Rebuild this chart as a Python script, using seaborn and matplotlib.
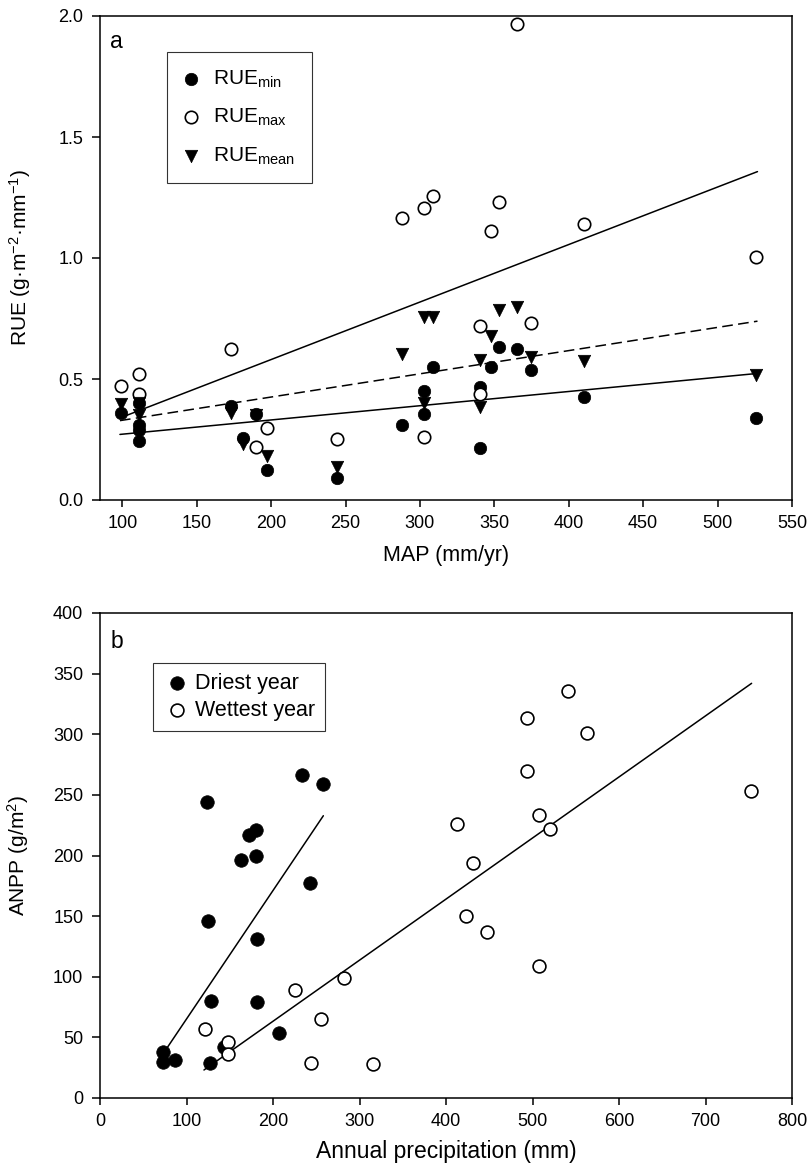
import matplotlib
matplotlib.use("Agg")
import matplotlib.pyplot as plt
import seaborn as sns
import pandas as pd

# ---------------- Panel a data ----------------
map_min = [99, 111, 111, 111, 111, 173, 181, 189.5, 197.5, 244, 288, 303, 303, 308.7,
           340.5, 340.5, 348, 353, 365, 374.5, 410, 526]
rue_min = [0.36, 0.40, 0.31, 0.29, 0.245, 0.39, 0.255, 0.354, 0.124, 0.09, 0.31, 0.452,
           0.354, 0.551, 0.468, 0.214, 0.548, 0.633, 0.623, 0.537, 0.427, 0.338]

map_max = [99, 111, 111, 173, 189.5, 197.5, 244, 288, 303, 303, 308.7, 340.5, 340.5,
           348, 353, 365, 374.5, 410, 526]
rue_max = [0.471, 0.519, 0.438, 0.623, 0.22, 0.296, 0.252, 1.165, 1.205, 0.262, 1.258,
           0.719, 0.438, 1.112, 1.231, 1.967, 0.730, 1.140, 1.006]

map_mean = [99, 111, 111, 173, 181, 189.5, 197.5, 244, 288, 303, 303, 308.7, 340.5,
            340.5, 348, 353, 365, 374.5, 410, 526]
rue_mean = [0.397, 0.40, 0.35, 0.36, 0.232, 0.35, 0.182, 0.138, 0.603, 0.757, 0.40,
            0.757, 0.579, 0.383, 0.678, 0.785, 0.796, 0.590, 0.574, 0.517]

# fitted regression lines (end points)
fit_a_x = [98.4, 526.8]
fit_max_y = [0.339, 1.357]
fit_mean_y = [0.328, 0.739]
fit_min_y = [0.271, 0.523]

# ---------------- Panel b data ----------------
dry_x = [124, 234, 258, 180, 172, 163, 180, 243, 125, 182, 128, 182, 207, 143, 72.5,
         72.5, 87, 127]
dry_y = [244, 266, 259, 221, 217, 196, 200, 177, 146, 131, 80, 79, 54, 42, 38, 30, 31, 29]

wet_x = [541, 494, 563, 494, 507, 753, 413, 520, 431, 423, 447, 507, 121, 148, 148,
         226, 255, 282, 244, 316]
wet_y = [336, 313, 301, 270, 233, 253, 226, 222, 194, 150, 137, 109, 57, 46, 36, 89,
         65, 99, 29, 28]

fit_dry_x = [72.5, 258.2]
fit_dry_y = [36, 232.8]
fit_wet_x = [120.2, 753.3]
fit_wet_y = [23.1, 342]

# ---------------- Style ----------------
sns.set_style("ticks")
plt.rcParams['font.family'] = ['Liberation Sans', 'DejaVu Sans']
plt.rcParams['mathtext.fontset'] = 'custom'
plt.rcParams['mathtext.rm'] = 'Liberation Sans'
plt.rcParams['mathtext.it'] = 'Liberation Sans'
plt.rcParams['mathtext.bf'] = 'Liberation Sans:bold'
plt.rcParams['axes.linewidth'] = 1.1
plt.rcParams['axes.edgecolor'] = 'black'
plt.rcParams['xtick.color'] = 'black'
plt.rcParams['ytick.color'] = 'black'
plt.rcParams['text.color'] = 'black'
plt.rcParams['axes.labelcolor'] = 'black'

W, H = 809, 1167
fig = plt.figure(figsize=(W / 100, H / 100), dpi=100)
ax1 = fig.add_axes([100 / W, 1 - 500 / H, 692 / W, 484 / H])
ax2 = fig.add_axes([100 / W, 1 - 1098 / H, 692 / W, 485 / H])

ms = 80
lw_edge = 1.2

# ---- panel a ----
sns.lineplot(x=fit_a_x, y=fit_max_y, ax=ax1, color='black', lw=1.1)
sns.lineplot(x=fit_a_x, y=fit_min_y, ax=ax1, color='black', lw=1.1)
sns.lineplot(x=fit_a_x, y=fit_mean_y, ax=ax1, color='black', lw=1.1, dashes=False)
ax1.lines[-1].set_dashes((7, 3.5))

sns.scatterplot(x=map_min, y=rue_min, ax=ax1, marker='o', s=ms, color='black',
                edgecolor='black', linewidth=0.5, label=r'RUE$_{\rm min}$', zorder=3)
sns.scatterplot(x=map_max, y=rue_max, ax=ax1, marker='o', s=ms, facecolor='white',
                edgecolor='black', linewidth=lw_edge, label=r'RUE$_{\rm max}$', zorder=3)
sns.scatterplot(x=map_mean, y=rue_mean, ax=ax1, marker='v', s=ms, color='black',
                edgecolor='black', linewidth=0.5, label=r'RUE$_{\rm mean}$', zorder=3)

ax1.set_xlim(85, 550)
ax1.set_ylim(0, 2.0)
ax1.set_xticks([100, 150, 200, 250, 300, 350, 400, 450, 500, 550])
ax1.set_yticks([0.0, 0.5, 1.0, 1.5, 2.0])
ax1.set_yticklabels(['0.0', '0.5', '1.0', '1.5', '2.0'])
ax1.set_xlabel('MAP (mm/yr)', fontsize=15.5, labelpad=9)
ax1.set_ylabel('RUE (g·m$^{-2}$·mm$^{-1}$)', fontsize=15, labelpad=18)
ax1.text(0.015, 0.971, 'a', transform=ax1.transAxes, fontsize=16.5, va='top', ha='left')
leg1 = ax1.legend(loc='upper left', bbox_to_anchor=(0.097, 0.926), fontsize=15,
                  frameon=True, fancybox=False, edgecolor='black', borderpad=0.8,
                  borderaxespad=0, labelspacing=0.82, handletextpad=0.72,
                  handlelength=0.7)
leg1.get_frame().set_linewidth(0.8)

# ---- panel b ----
sns.lineplot(x=fit_dry_x, y=fit_dry_y, ax=ax2, color='black', lw=1.1)
sns.lineplot(x=fit_wet_x, y=fit_wet_y, ax=ax2, color='black', lw=1.1)
sns.scatterplot(x=dry_x, y=dry_y, ax=ax2, marker='o', s=95, color='black',
                edgecolor='black', linewidth=0.5, label='Driest year', zorder=3)
sns.scatterplot(x=wet_x, y=wet_y, ax=ax2, marker='o', s=85, facecolor='white',
                edgecolor='black', linewidth=lw_edge, label='Wettest year', zorder=3)

ax2.set_xlim(0, 800)
ax2.set_ylim(0, 400)
ax2.set_xticks(range(0, 801, 100))
ax2.set_yticks(range(0, 401, 50))
ax2.set_xlabel('Annual precipitation (mm)', fontsize=16.5, labelpad=7)
ax2.set_ylabel('ANPP (g/m$^2$)', fontsize=15, labelpad=16)
ax2.text(0.015, 0.965, 'b', transform=ax2.transAxes, fontsize=16.5, va='top', ha='left')
leg2 = ax2.legend(loc='upper left', bbox_to_anchor=(0.0766, 0.897), fontsize=15.5,
                  frameon=True, fancybox=False, edgecolor='black', borderpad=0.45,
                  borderaxespad=0, labelspacing=0.3, handletextpad=0.2,
                  handlelength=1.3)
leg2.get_frame().set_linewidth(0.8)

for ax in (ax1, ax2):
    for sp in ax.spines.values():
        sp.set_visible(True)
        sp.set_linewidth(1.1)
    ax.tick_params(axis='y', direction='out', length=6, width=1.1, labelsize=13,
                   pad=6, right=False)
    ax.tick_params(axis='x', direction='out', length=5, width=1.1, labelsize=13,
                   pad=6, top=False)

fig.savefig('out.png', dpi=100)
